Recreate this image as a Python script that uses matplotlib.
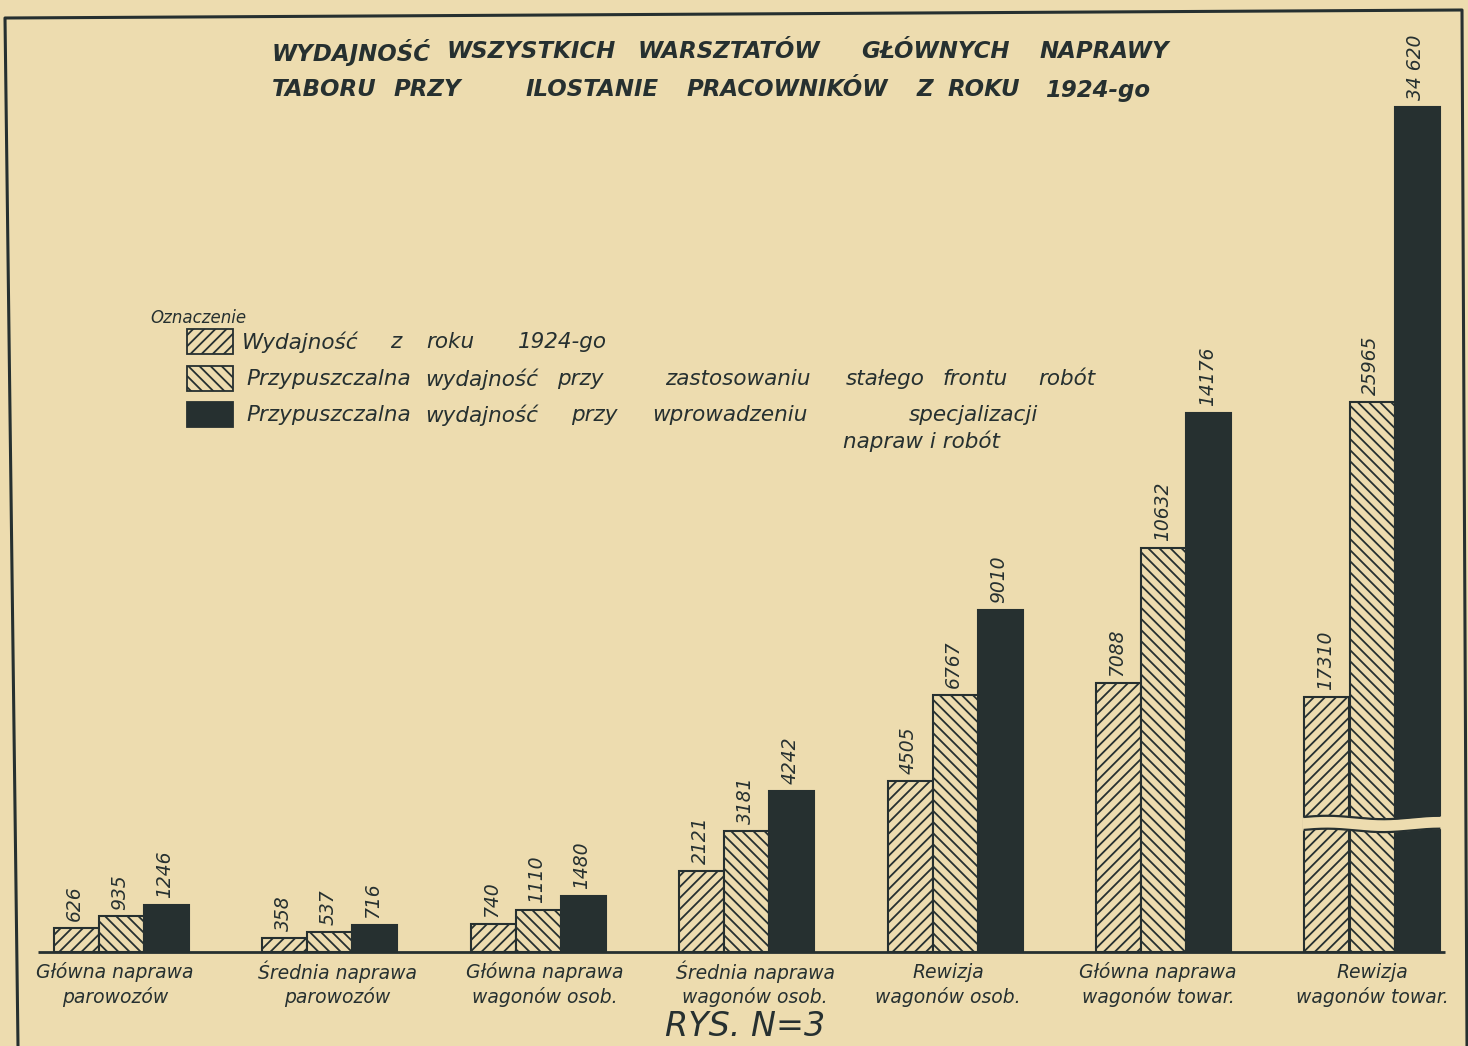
import numpy as np
import matplotlib
matplotlib.use("Agg")
import matplotlib.pyplot as plt
from matplotlib.lines import Line2D
from matplotlib.patches import Rectangle

# ---------------- data ----------------
categories = [
    "Główna naprawa\nparowozów",
    "Średnia naprawa\nparowozów",
    "Główna naprawa\nwagonów osob.",
    "Średnia naprawa\nwagonów osob.",
    "Rewizja\nwagonów osob.",
    "Główna naprawa\nwagonów towar.",
    "Rewizja\nwagonów towar.",
]
series_names = [
    "Wydajność z roku 1924-go",
    "Przypuszczalna wydajność przy zastosowaniu stałego frontu robót",
    "Przypuszczalna wydajność przy wprowadzeniu specjalizacji\nnapraw i robót",
]
output_1924 = [626, 358, 740, 2121, 4505, 7088, 17310]
output_front = [935, 537, 1110, 3181, 6767, 10632, 25965]
output_special = [1246, 716, 1480, 4242, 9010, 14176, 34620]
broken_category = 6
title_lines = [
    "WYDAJNOŚĆ WSZYSTKICH WARSZTATÓW GŁÓWNYCH NAPRAWY",
    "TABORU PRZY ILOSTANIE PRACOWNIKÓW Z ROKU 1924-go",
]
legend_heading = "Oznaczenie"
figure_label = "RYS. N=3"

# ---------------- style / layout ----------------
BG = "#eddcaf"
INK = "#263030"
W_PX, H_PX = 1468, 1046
GROUP_PX0, GROUP_DX = 121.0, 208.5      # pixel centre of first group, spacing
BASE_PX = 952.0                          # baseline pixel row
PX_PER_UNIT = 0.038
U = 1.0 / PX_PER_UNIT
BAR_W = 45.0 / GROUP_DX
BREAK_GAIN, BREAK_SHIFT = 0.898, 8840.0  # compressed scale above the break

plt.rcParams["hatch.linewidth"] = 1.3
plt.rcParams["font.family"] = ["DejaVu Sans"]

fig = plt.figure(figsize=(W_PX / 100, H_PX / 100), dpi=100, facecolor=BG)
ax = fig.add_axes([0, 0, 1, 1])
ax.set_facecolor(BG)
ax.set_xlim((0 - GROUP_PX0) / GROUP_DX, (W_PX - GROUP_PX0) / GROUP_DX)
ax.set_ylim(-(H_PX - BASE_PX) * U, BASE_PX * U)
ax.axis("off")


def ptext(x, y, s, **kw):
    return fig.text(x / W_PX, 1 - y / H_PX, s, **kw)


series = [output_1924, output_front, output_special]
hatches = ["///", "\\\\\\", None]
faces = [BG, BG, INK]
offsets = [-BAR_W, 0.0, BAR_W]
xpos = np.arange(len(categories))

for s_vals, hatch, face, off in zip(series, hatches, faces, offsets):
    vals = np.array(s_vals, dtype=float)
    shown = np.where(xpos == broken_category, BREAK_GAIN * vals - BREAK_SHIFT, vals)
    ax.bar(xpos + off, shown, width=BAR_W, facecolor=face, edgecolor=INK,
           linewidth=1.5, hatch=hatch, zorder=2)
    for x, h, v in zip(xpos + off, shown, s_vals):
        lbl = f"{v:,}".replace(",", " ") if v >= 30000 else str(v)
        ax.annotate(lbl, (x, h), xytext=(-1, 5), textcoords="offset points",
                    rotation=90, ha="center", va="bottom", fontsize=13.5,
                    style="italic", color=INK, zorder=7)

# axis break on the last group
xc = xpos[broken_category]
x0, x1 = xc - 1.5 * BAR_W, xc + 1.5 * BAR_W
xs = np.linspace(x0 - 0.01, x1 + 0.01, 300)
t = (xs - x0) / (x1 - x0)
wave = 45 * np.sin(2 * np.pi * (1.2 * t + 0.05))
upper = 3540 + wave
lower = 3200 + wave
ax.fill_between(xs, lower, upper, color=BG, lw=0, zorder=5)
m = (xs >= x0) & (xs <= x1)
ax.plot(xs[m], upper[m], color=INK, lw=1.6, zorder=6)
ax.plot(xs[m], lower[m], color=INK, lw=1.6, zorder=6)

# baseline
ax.plot([(38 - GROUP_PX0) / GROUP_DX, (1445 - GROUP_PX0) / GROUP_DX], [0, 0],
        color=INK, lw=2, zorder=6, solid_capstyle="butt")

# category labels (hand-lettered positions)
cat_label_px = [115, 337, 545, 755, 948, 1158, 1372]
for cx, cat in zip(cat_label_px, categories):
    l1, l2 = cat.split("\n")
    ptext(cx, 972, l1, ha="center", va="center", fontsize=13.5,
          style="italic", color=INK)
    ptext(cx, 997, l2, ha="center", va="center", fontsize=13.5,
          style="italic", color=INK)

# title (hand-lettered, widely spaced words) - word centres in px
title_word_cx = [[351, 531, 729, 935, 1104], [324, 427, 592, 787, 925, 984, 1098]]
for line, y, cxs in zip(title_lines, [52, 90], title_word_cx):
    for word, cx in zip(line.split(" "), cxs):
        ptext(cx, y, word, ha="center", va="center", fontsize=16.5,
              fontweight="bold", style="italic", color=INK)

# legend
ptext(150, 318, legend_heading, ha="left", va="center", fontsize=12,
      style="italic", color=INK)
legend_rows_y = [342, 379, 415]
legend_first_x = [242, 246, 246]
legend_word_cx = [[None, 396, 450, 562],
                  [None, 482, 580, 738, 885, 975, 1067],
                  [None, 482, 594, 730, 973]]
for name, hatch, face, y, fx, wx in zip(series_names, hatches, faces,
                                        legend_rows_y, legend_first_x, legend_word_cx):
    fig.patches.append(Rectangle((187 / W_PX, 1 - (y + 12) / H_PX),
                                 46 / W_PX, 25 / H_PX, transform=fig.transFigure,
                                 facecolor=face, edgecolor=INK, lw=1.3,
                                 hatch=hatch, figure=fig))
    words = name.split("\n")[0].split(" ")
    ptext(fx, y, words[0], ha="left", va="center", fontsize=15.5,
          style="italic", color=INK)
    for word, cx in zip(words[1:], wx[1:]):
        ptext(cx, y, word, ha="center", va="center", fontsize=15.5,
              style="italic", color=INK)
    if "\n" in name:
        ptext(921, y + 26, name.split("\n")[1], ha="center", va="center",
              fontsize=15.5, style="italic", color=INK)

# figure number
ptext(745, 1027, figure_label, ha="center", va="center", fontsize=24,
      style="italic", color=INK)

# frame (slightly skewed as in the scan)
frame_x = [18, 5, 1462, 1467]
frame_y = [1046, 18, 10, 1046]
fig.add_artist(Line2D([x / W_PX for x in frame_x], [1 - y / H_PX for y in frame_y],
                      transform=fig.transFigure, color=INK, lw=2.2))

fig.savefig("out.png", dpi=100, facecolor=BG)
